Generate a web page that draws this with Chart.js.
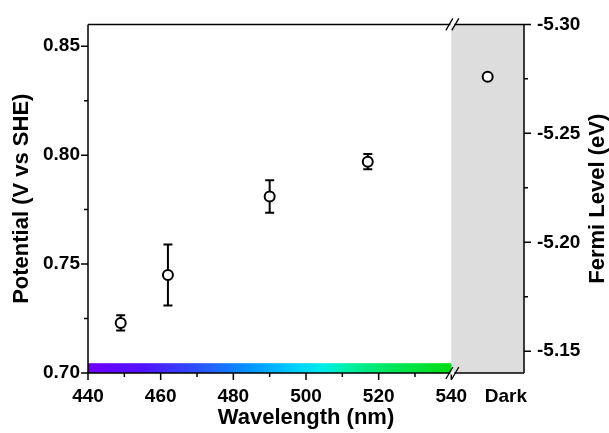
<!DOCTYPE html>
<html>
<head>
<meta charset="utf-8">
<script src="https://cdn.jsdelivr.net/npm/chart.js@4.4.1/dist/chart.umd.min.js"></script>
<style>
  html, body { margin: 0; padding: 0; background: #fff; }
  #wrap { width: 609px; height: 433px; }
</style>
</head>
<body>
<div id="wrap"><canvas id="fermiChart" width="609" height="433"></canvas></div>
<script>
// data
const wavelengths = [449, 462, 490, 517];
const potentials = [0.723, 0.745, 0.781, 0.797];
const potentialErrors = [0.0035, 0.014, 0.0075, 0.0035];
const darkPosition = 550;
const darkPotential = 0.836;
const darkError = 0;

const xTickValues = [440, 460, 480, 500, 520, 540];
const xMinorTicks = [450, 470, 490, 510, 530];
const darkLabelPosition = 555;
const breakAt = 540;
const xMin = 440, xMax = 560;

const yMin = 0.70, yMax = 0.86;
const yTickValues = [0.70, 0.75, 0.80, 0.85];
const yMinorTicks = [0.725, 0.775, 0.825];
const fermiShift = -4.44; // E_F = -4.44 - V
const fermiTickValues = [-5.30, -5.25, -5.20, -5.15];
const fermiMinorTicks = [-5.275, -5.225, -5.175];

// spectrum under the light region
const spectrumStops = [
  [440, "#7000ff"], [455, "#5212ff"], [470, "#2c50ff"], [485, "#0098ff"],
  [497, "#00d0ff"], [505, "#00eee6"], [512, "#00f0a0"], [522, "#00e862"],
  [540, "#00dc12"]
];
const spectrumTop = 0.7045;

const FONT = "'Liberation Sans', Arial, sans-serif";

const allX = wavelengths.concat([darkPosition]);
const allY = potentials.concat([darkPotential]);
const allErr = potentialErrors.concat([darkError]);

const decorations = {
  id: "decorations",
  beforeDatasetsDraw(chart) {
    const { ctx, chartArea: a, scales } = chart;
    const x = scales.x, y = scales.y;
    const xb = x.getPixelForValue(breakAt);

    ctx.save();
    // dark region
    ctx.fillStyle = "#dddddd";
    ctx.fillRect(xb, a.top, a.right - xb, a.bottom - a.top);

    // spectrum bar
    const x0 = x.getPixelForValue(440);
    const grad = ctx.createLinearGradient(x0, 0, xb, 0);
    spectrumStops.forEach(([w, c]) => grad.addColorStop((w - 440) / (breakAt - 440), c));
    ctx.fillStyle = grad;
    const yt = y.getPixelForValue(spectrumTop);
    ctx.fillRect(x0, yt, xb - x0, a.bottom - yt);

    // error bars
    ctx.strokeStyle = "#000";
    ctx.lineWidth = 2;
    allX.forEach((wl, i) => {
      if (!allErr[i]) return;
      const px = x.getPixelForValue(wl);
      const top = y.getPixelForValue(allY[i] + allErr[i]);
      const bot = y.getPixelForValue(allY[i] - allErr[i]);
      ctx.beginPath();
      ctx.moveTo(px, top); ctx.lineTo(px, bot);
      ctx.moveTo(px - 4.5, top); ctx.lineTo(px + 4.5, top);
      ctx.moveTo(px - 4.5, bot); ctx.lineTo(px + 4.5, bot);
      ctx.stroke();
    });
    ctx.restore();
  },
  afterDraw(chart) {
    const { ctx, chartArea: a, scales } = chart;
    const x = scales.x, y = scales.y, y2 = scales.y2;
    ctx.save();
    ctx.strokeStyle = "#000";
    ctx.lineWidth = 1.5;

    // frame
    ctx.beginPath();
    ctx.moveTo(a.left, a.top); ctx.lineTo(a.right, a.top);
    ctx.moveTo(a.left, a.bottom); ctx.lineTo(a.right, a.bottom);
    ctx.moveTo(a.left, a.top); ctx.lineTo(a.left, a.bottom);
    ctx.moveTo(a.right, a.top); ctx.lineTo(a.right, a.bottom);
    ctx.stroke();

    // ticks
    const tick = (x1, y1, x2, y2) => { ctx.moveTo(x1, y1); ctx.lineTo(x2, y2); };
    ctx.beginPath();
    xTickValues.forEach(v => { const p = x.getPixelForValue(v); tick(p, a.bottom, p, a.bottom + 7); });
    xMinorTicks.forEach(v => { const p = x.getPixelForValue(v); tick(p, a.bottom, p, a.bottom + 4); });
    yTickValues.forEach(v => { const p = y.getPixelForValue(v); tick(a.left - 7, p, a.left, p); });
    yMinorTicks.forEach(v => { const p = y.getPixelForValue(v); tick(a.left - 4, p, a.left, p); });
    fermiTickValues.forEach(v => { const p = y2.getPixelForValue(v); tick(a.right, p, a.right + 7, p); });
    fermiMinorTicks.forEach(v => { const p = y2.getPixelForValue(v); tick(a.right, p, a.right + 4, p); });
    ctx.stroke();

    // axis breaks
    const cx = x.getPixelForValue(breakAt) + 1;
    [a.top, a.bottom].forEach(yy => {
      ctx.fillStyle = "#fff";
      ctx.fillRect(cx - 2, yy - 1.5, 4, 3);
      ctx.beginPath();
      [-3, 3].forEach(off => {
        ctx.moveTo(cx + off - 3.5, yy + 6);
        ctx.lineTo(cx + off + 3.5, yy - 6);
      });
      ctx.lineWidth = 1.3;
      ctx.stroke();
    });

    // right axis title (reads bottom to top)
    ctx.fillStyle = "#000";
    ctx.font = "bold 22px " + FONT;
    ctx.textAlign = "center";
    ctx.textBaseline = "middle";
    ctx.translate(598, (a.top + a.bottom) / 2);
    ctx.rotate(-Math.PI / 2);
    ctx.fillText("Fermi Level (eV)", 0, 0);
    ctx.restore();
  }
};

Chart.defaults.color = "#000";
Chart.defaults.font.family = FONT;

const setTicks = values => s => { s.ticks = values.map(v => ({ value: v })); };

new Chart(document.getElementById("fermiChart"), {
  type: "scatter",
  data: {
    datasets: [{
      data: allX.map((v, i) => ({ x: v, y: allY[i] })),
      pointRadius: 5,
      pointHoverRadius: 5,
      pointBackgroundColor: "#fff",
      pointBorderColor: "#000",
      pointBorderWidth: 2
    }]
  },
  options: {
    responsive: false,
    animation: false,
    layout: { padding: { top: 22, left: 0, right: 0, bottom: 0 } },
    plugins: { legend: { display: false }, tooltip: { enabled: false } },
    scales: {
      x: {
        type: "linear",
        min: xMin,
        max: xMax,
        afterBuildTicks: setTicks(xTickValues.concat([darkLabelPosition])),
        afterFit: s => { s.height = 60; },
        grid: { display: false, drawTicks: false },
        border: { display: false },
        ticks: {
          autoSkip: false,
          maxRotation: 0,
          padding: 12,
          font: { size: 19, weight: "bold" },
          callback: v => (v === darkLabelPosition ? "Dark" : v)
        },
        title: {
          display: true,
          text: "Wavelength (nm)",
          font: { size: 22, weight: "bold" },
          padding: { top: 0, bottom: 2 }
        }
      },
      y: {
        position: "left",
        min: yMin,
        max: yMax,
        afterBuildTicks: setTicks(yTickValues),
        afterFit: s => { s.width = 88; },
        grid: { display: false, drawTicks: false },
        border: { display: false },
        ticks: {
          autoSkip: false,
          padding: 8,
          font: { size: 19, weight: "bold" },
          callback: v => v.toFixed(2)
        },
        title: {
          display: true,
          text: "Potential (V vs SHE)",
          font: { size: 22, weight: "bold" },
          padding: { top: 9, bottom: 0 }
        }
      },
      y2: {
        position: "right",
        reverse: true,
        min: fermiShift - yMax,
        max: fermiShift - yMin,
        afterBuildTicks: setTicks(fermiTickValues),
        afterFit: s => { s.width = 85; },
        grid: { display: false, drawTicks: false },
        border: { display: false },
        ticks: {
          autoSkip: false,
          padding: 13,
          font: { size: 19, weight: "bold" },
          callback: v => v.toFixed(2)
        }
      }
    }
  },
  plugins: [decorations]
});
</script>
</body>
</html>
